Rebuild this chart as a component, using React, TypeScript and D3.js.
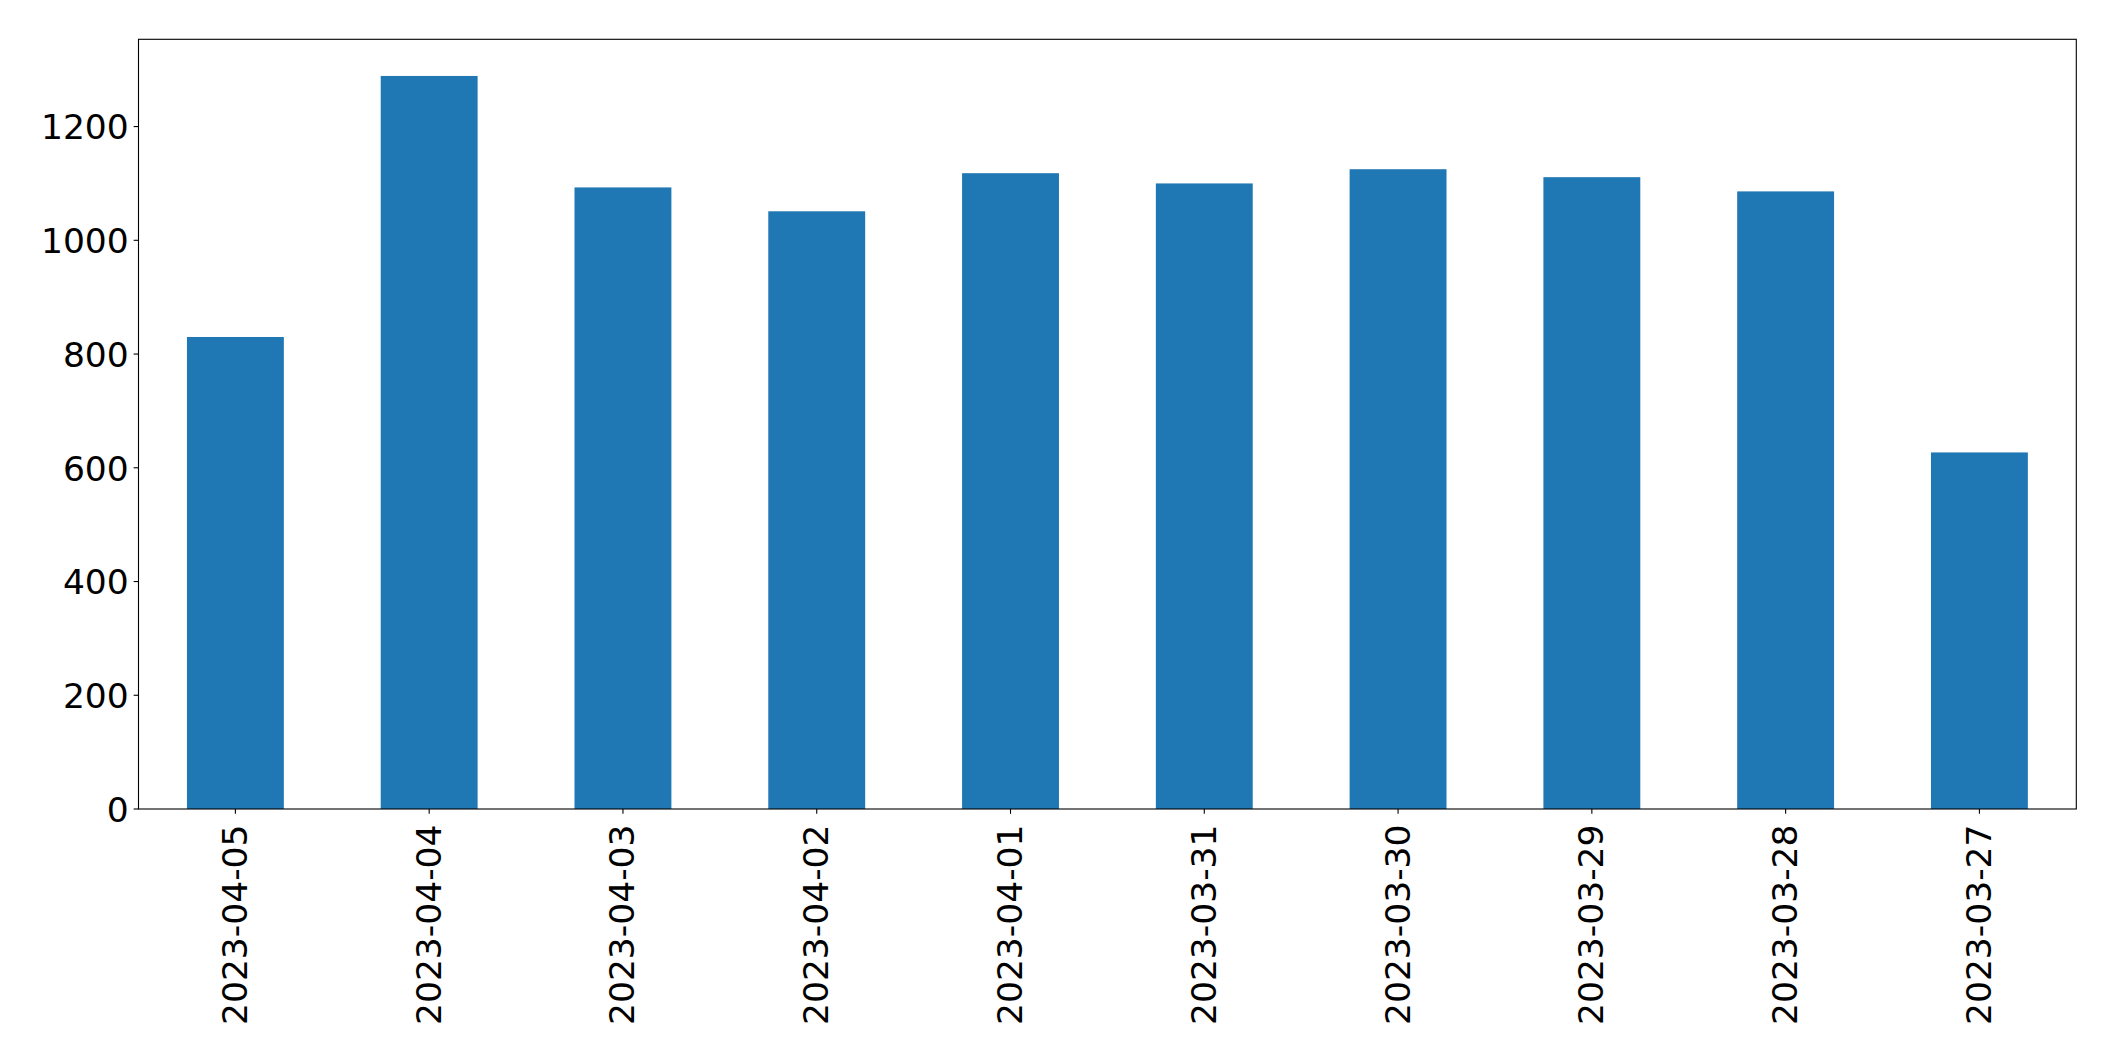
import React from "react";
import * as d3 from "d3";

const categories: string[] = [
  "2023-04-05",
  "2023-04-04",
  "2023-04-03",
  "2023-04-02",
  "2023-04-01",
  "2023-03-31",
  "2023-03-30",
  "2023-03-29",
  "2023-03-28",
  "2023-03-27",
];
const values: number[] = [830, 1289, 1093, 1051, 1118, 1100, 1125, 1111, 1086, 627];
const yTicks: number[] = [0, 200, 400, 600, 800, 1000, 1200];

const W = 2115;
const H = 1061;
const left = 138.5;
const right = 2076.3;
const top = 39.3;
const bottom = 809;
const FONT = "'DejaVu Sans', sans-serif";
const FS = 34.5;
const BAR = "#1f77b4";

export default function App() {
  const x = d3.scaleBand<string>().domain(categories).range([left, right]).paddingInner(0.5).paddingOuter(0.25);
  const yMax = (d3.max(values) as number) * 1.05;
  const y = d3.scaleLinear().domain([0, yMax]).range([bottom, top]);
  const tickLen = 4.86;
  const pad = 4.86;

  return (
    <svg
      width={W}
      height={H}
      style={{ position: "absolute", left: 0, top: 0, display: "block", background: "#fff" }}
    >
      <rect x={0} y={0} width={W} height={H} fill="#fff" />
      {categories.map((c, i) => (
        <rect
          key={c}
          x={x(c) as number}
          y={y(values[i])}
          width={x.bandwidth()}
          height={bottom - y(values[i])}
          fill={BAR}
        />
      ))}
      {/* spines */}
      <rect x={left} y={top} width={right - left} height={bottom - top} fill="none" stroke="#000" strokeWidth={1.1} />
      {/* y ticks */}
      {yTicks.map((t) => (
        <g key={t}>
          <line x1={left - tickLen} x2={left} y1={y(t)} y2={y(t)} stroke="#000" strokeWidth={1.1} />
          <text
            x={left - tickLen - pad}
            y={y(t) + 12.8}
            textAnchor="end"
            fontFamily={FONT}
            fontSize={FS}
            fill="#000"
          >
            {t}
          </text>
        </g>
      ))}
      {/* x ticks */}
      {categories.map((c) => {
        const cx = (x(c) as number) + x.bandwidth() / 2;
        return (
          <g key={c}>
            <line x1={cx} x2={cx} y1={bottom} y2={bottom + tickLen} stroke="#000" strokeWidth={1.1} />
            <text
              transform={`translate(${cx + 11.5},${bottom + 15.5}) rotate(-90)`}
              textAnchor="end"
              fontFamily={FONT}
              fontSize={FS}
              fill="#000"
            >
              {c}
            </text>
          </g>
        );
      })}
    </svg>
  );
}
